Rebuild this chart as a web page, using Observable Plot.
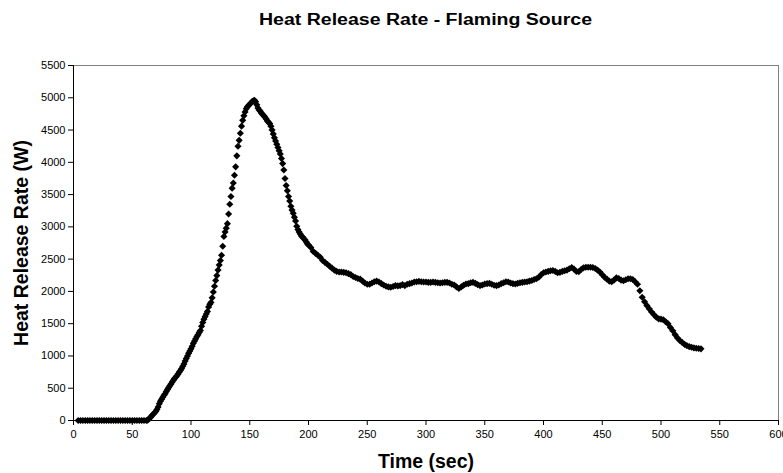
<!DOCTYPE html>
<html><head><meta charset="utf-8">
<script src="https://cdn.jsdelivr.net/npm/d3@7"></script>
<script src="https://cdn.jsdelivr.net/npm/@observablehq/plot@0.6"></script>
<style>
body{margin:0;background:#fff;font-family:"Liberation Sans",Arial,sans-serif}
#title{height:45px;box-sizing:border-box;padding-top:11px;padding-left:67px;text-align:center;color:#000;line-height:17px}
#title span{display:inline-block;font-weight:bold;font-size:16px;transform:scaleX(1.22);transform-origin:center}
</style></head>
<body>
<div id="title"><span id="tt"></span></div>
<div id="chart"></div>
<script>
const title = "Heat Release Rate - Flaming Source";
const xLabel = "Time (sec)";
const yLabel = "Heat Release Rate (W)";
const xTicks = [0,50,100,150,200,250,300,350,400,450,500,550,600];
const yTicks = [0,500,1000,1500,2000,2500,3000,3500,4000,4500,5000,5500];

// Segment A: t = 4..62 s, every 2 s
const timesA = d3.range(4, 63, 2);
const hrrA = [0,0,0,0,0,0,0,0,0,0,0,0,0,0,0,0,0,0,0,0,0,0,0,0,0,0,0,0,0,0];
// Segment B: t = 63..200 s, every 1 s
const timesB = d3.range(63, 201, 1);
const hrrB = [5,20,40,60,80,100,120,140,170,210,260,300,330,360,390,415,450,480,510,540,
565,595,625,650,670,695,720,750,775,805,840,875,920,960,1000,1040,1075,1110,1150,1195,
1230,1265,1300,1330,1365,1395,1460,1520,1570,1610,1650,1690,1760,1800,1830,1900,1990,2080,2170,2245,
2330,2410,2480,2560,2700,2850,2920,2980,3050,3200,3350,3470,3600,3680,3800,3930,4100,4250,4340,4450,
4560,4650,4720,4780,4830,4860,4880,4900,4920,4940,4955,4960,4940,4890,4840,4810,4790,4760,4740,4720,
4700,4670,4640,4620,4600,4560,4500,4440,4380,4330,4280,4230,4180,4130,4060,3980,3880,3750,3640,3560,
3470,3400,3320,3260,3210,3150,3090,3010,2960,2920,2890,2860,2840,2820,2800,2770,2740,2720];
// Segment C: t = 202..534 s, every 2 s
const timesC = d3.range(202, 535, 2);
const hrrC = [2680,2620,2590,2560,2530,2480,2450,2420,2390,2360,2330,2310,2300,2300,2295,2290,2275,2260,2230,2215,
2200,2190,2160,2130,2110,2110,2130,2150,2160,2145,2120,2100,2080,2070,2065,2075,2090,2085,2090,2105,
2090,2110,2120,2130,2145,2150,2155,2150,2145,2145,2140,2140,2145,2140,2135,2130,2135,2140,2140,2130,
2110,2100,2070,2045,2070,2095,2115,2120,2135,2140,2125,2105,2090,2100,2115,2120,2125,2110,2095,2090,
2100,2120,2135,2150,2145,2130,2120,2115,2125,2135,2140,2145,2150,2160,2170,2185,2195,2220,2260,2290,
2300,2310,2320,2325,2310,2290,2295,2310,2320,2330,2350,2370,2345,2310,2305,2340,2365,2375,2375,2375,
2370,2355,2330,2300,2260,2220,2190,2160,2150,2175,2210,2200,2175,2165,2180,2195,2195,2185,2150,2110,
2010,1910,1840,1780,1730,1680,1640,1600,1575,1570,1560,1530,1500,1440,1390,1330,1280,1240,1210,1180,
1160,1145,1135,1125,1120,1115,1110];

const times = [...timesA, ...timesB, ...timesC];
const hrr = [...hrrA, ...hrrB, ...hrrC];
const data = times.map((t, i) => ({t, v: hrr[i]}));

document.getElementById("tt").textContent = title;

const chart = Plot.plot({
  width: 783,
  height: 428,
  marginTop: 20,
  marginBottom: 53,
  marginLeft: 73,
  marginRight: 5,
  x: {domain: [0, 600]},
  y: {domain: [0, 5500]},
  style: {fontFamily: "'Liberation Sans', Arial, sans-serif", fontSize: "11px", color: "#000", background: "#fff"},
  marks: [
    Plot.ruleY([5500], {stroke: "#808080"}),
    Plot.ruleX([600], {stroke: "#808080"}),
    Plot.axisX({ticks: xTicks, tickSize: 5, tickPadding: 5, label: null, tickFormat: d => String(d), fontSize: 11}),
    Plot.axisY({ticks: yTicks, tickSize: 5, tickPadding: 3, label: null, tickFormat: d => String(d), fontSize: 11}),
    Plot.ruleY([0], {stroke: "#000"}),
    Plot.ruleX([0], {stroke: "#000"}),
    Plot.dot(data, {x: "t", y: "v", symbol: "diamond2", r: 3.2, fill: "#000", stroke: null}),
    Plot.text([xLabel], {text: d => d, frameAnchor: "bottom", dy: 41, fontWeight: "bold", fontSize: 19.5, lineAnchor: "middle"}),
    Plot.text([yLabel], {text: d => d, frameAnchor: "left", dx: -52, rotate: -90, textAnchor: "middle", fontWeight: "bold", fontSize: 19.5, lineAnchor: "middle"})
  ]
});
document.getElementById("chart").appendChild(chart);
</script>
</body></html>
